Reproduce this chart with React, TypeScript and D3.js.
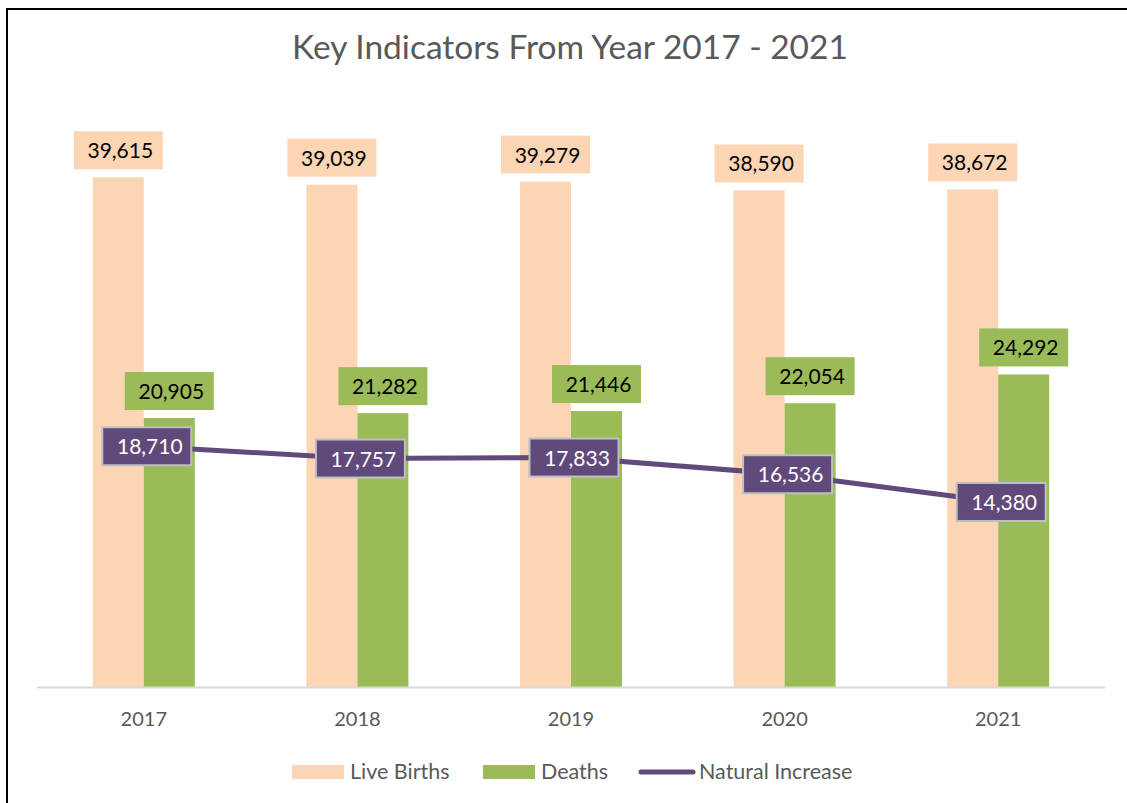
import React from "react";
import * as d3 from "d3";

const years = ["2017", "2018", "2019", "2020", "2021"];
const liveBirths = [39615, 39039, 39279, 38590, 38672];
const deaths = [20905, 21282, 21446, 22054, 24292];
const naturalIncrease = [18710, 17757, 17833, 16536, 14380];

const W = 1127;
const H = 803;
const FONT = "Lato, 'Open Sans', sans-serif";
const C_BIRTH = "#FCD5B5";
const C_DEATH = "#9BBB59";
const C_LINE = "#604A7B";
const C_TEXT = "#595959";

export default function App() {
  const x = d3.scaleBand<string>().domain(years).range([37, 1105]);
  const y = d3.scaleLinear().domain([0, 45000]).range([687, 108]);
  const barW = 51;
  const fmt = d3.format(",");
  const cx = (i: number) => (x(years[i]) as number) + x.bandwidth() / 2;
  const line = d3
    .line<number>()
    .x((_, i) => cx(i))
    .y((d) => y(d));
  const boxW = 89;
  const boxH = 38;

  return (
    <svg
      width={W}
      height={H}
      style={{ position: "absolute", left: 0, top: 0, background: "#fff" }}
      fontFamily={FONT}
    >
      <rect x={0} y={0} width={W} height={H} fill="#fff" />
      <rect x={7} y={9} width={W + 20} height={H + 20} fill="none" stroke="#000" strokeWidth={2} />
      <text x={570} y={59} textAnchor="middle" fontSize={33.5} fontWeight={400} fill={C_TEXT}>
        Key Indicators From Year 2017 - 2021
      </text>

      {years.map((yr, i) => {
        const c = cx(i);
        const yb = y(liveBirths[i]);
        const yd = y(deaths[i]);
        return (
          <g key={yr}>
            <rect x={c - barW} y={yb} width={barW} height={y(0) - yb} fill={C_BIRTH} />
            <rect x={c} y={yd} width={barW} height={y(0) - yd} fill={C_DEATH} />
          </g>
        );
      })}

      <line x1={37} x2={1105} y1={687.5} y2={687.5} stroke="#D9D9D9" strokeWidth={2} />

      {years.map((yr, i) => (
        <text key={yr} x={cx(i)} y={726} textAnchor="middle" fontSize={20} fill={C_TEXT}>
          {yr}
        </text>
      ))}

      {years.map((yr, i) => {
        const c = cx(i) - barW / 2;
        const yb = y(liveBirths[i]);
        return (
          <g key={"lb" + yr}>
            <rect x={c - boxW / 2} y={yb - 8 - boxH} width={boxW} height={boxH} fill={C_BIRTH} />
            <text x={c + 2} y={yb - 8 - boxH / 2 + 8} textAnchor="middle" fontSize={21} fill="#000">
              {fmt(liveBirths[i])}
            </text>
          </g>
        );
      })}
      {years.map((yr, i) => {
        const c = cx(i) + barW / 2;
        const yd = y(deaths[i]);
        return (
          <g key={"dl" + yr}>
            <rect x={c - boxW / 2} y={yd - 8 - boxH} width={boxW} height={boxH} fill={C_DEATH} />
            <text x={c + 2} y={yd - 8 - boxH / 2 + 8} textAnchor="middle" fontSize={21} fill="#000">
              {fmt(deaths[i])}
            </text>
          </g>
        );
      })}

      <path d={line(naturalIncrease) || ""} fill="none" stroke={C_LINE} strokeWidth={5} strokeLinejoin="round" />

      {years.map((yr, i) => {
        const c = cx(i) + 3;
        const yn = y(naturalIncrease[i]);
        return (
          <g key={"ni" + yr}>
            <rect
              x={c - boxW / 2}
              y={yn - boxH / 2}
              width={boxW}
              height={boxH}
              fill={C_LINE}
              stroke="#BFBFBF"
              strokeWidth={2}
            />
            <text x={c + 3} y={yn + 8} textAnchor="middle" fontSize={21} fill="#fff">
              {fmt(naturalIncrease[i])}
            </text>
          </g>
        );
      })}

      <g>
        <rect x={292} y={765} width={52} height={14} fill={C_BIRTH} />
        <text x={350} y={779} fontSize={21.5} fill={C_TEXT}>Live Births</text>
        <rect x={483} y={765} width={52} height={14} fill={C_DEATH} />
        <text x={541} y={779} fontSize={21.5} fill={C_TEXT}>Deaths</text>
        <line x1={641} x2={693} y1={772} y2={772} stroke={C_LINE} strokeWidth={5} strokeLinecap="round" />
        <text x={699} y={779} fontSize={21.5} fill={C_TEXT}>Natural Increase</text>
      </g>
    </svg>
  );
}
